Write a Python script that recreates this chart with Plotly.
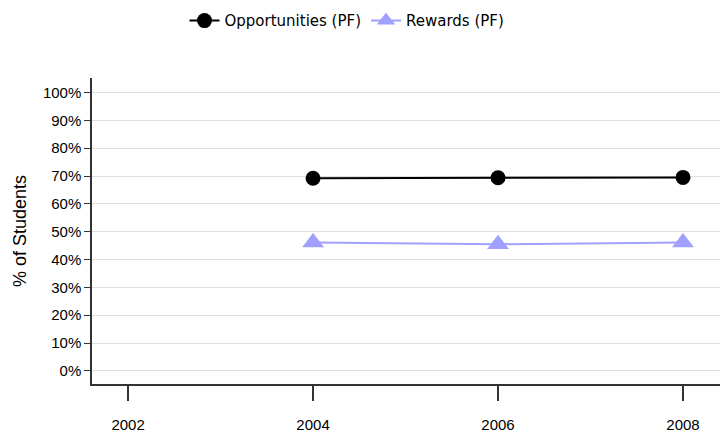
import plotly.graph_objects as go

years = [2004, 2006, 2008]
opportunities = [69.2, 69.4, 69.5]
rewards = [46.1, 45.5, 46.1]
x_ticks = [2002, 2004, 2006, 2008]
y_ticks = [0, 10, 20, 30, 40, 50, 60, 70, 80, 90, 100]
y_tick_labels = [f"{v}%" for v in y_ticks]

fig = go.Figure()
fig.add_trace(go.Scatter(
    x=years, y=opportunities, name="Opportunities (PF)", mode="lines+markers",
    line=dict(color="black", width=2),
    marker=dict(symbol="circle", size=15, color="black"),
))
fig.add_trace(go.Scatter(
    x=years, y=rewards, name="Rewards (PF)", mode="lines+markers",
    line=dict(color="#a0a0ff", width=2),
    marker=dict(symbol="triangle-up", size=19, color="#a0a0ff"),
))

fig.update_layout(
    width=727, height=435,
    margin=dict(l=92, r=7, t=78, b=51, autoexpand=False),
    paper_bgcolor="white", plot_bgcolor="white",
    font=dict(family="Liberation Sans", size=15, color="black"),
    legend=dict(orientation="h", x=347 / 727, xanchor="center", xref="container",
                y=0.99, yanchor="top", yref="container",
                font=dict(family="DejaVu Sans", size=15)),
    showlegend=True,
)
fig.update_xaxes(
    range=[2001.61, 2008.4], tickvals=x_ticks, ticktext=[str(v) for v in x_ticks],
    showgrid=False, zeroline=False, showline=True, linecolor="#333333", linewidth=1.5,
    ticks="outside", ticklen=15, tickcolor="#333333", tickwidth=1.5,
    ticklabelstandoff=11, automargin=False,
)
fig.update_yaxes(
    range=[-4.7, 105.2], tickvals=y_ticks, ticktext=y_tick_labels,
    showgrid=True, gridcolor="#dddddd", gridwidth=1, zeroline=False,
    showline=True, linecolor="#333333", linewidth=1.5,
    ticks="outside", ticklen=6, tickcolor="#333333", automargin=False,
    title=dict(text="% of Students", standoff=12),
)
fig.write_html("out.html", config={"displayModeBar": False},
               post_script="document.body.style.margin='0';")
